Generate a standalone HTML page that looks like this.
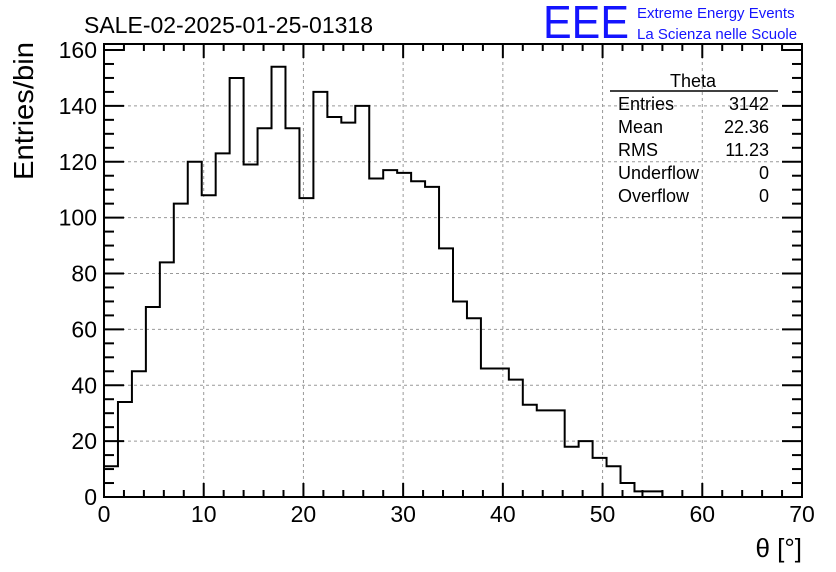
<!DOCTYPE html>
<html><head><meta charset="utf-8"><style>
body{margin:0;background:#fff;}
svg{display:block;font-family:"Liberation Sans",sans-serif;}
</style></head><body>
<svg id="c" width="836" height="572">
<text x="84" y="33" font-size="23">SALE-02-2025-01-25-01318</text>
<text x="543" y="38" font-size="46" fill="#1414ff" textLength="86" lengthAdjust="spacingAndGlyphs">EEE</text>
<text x="637" y="18" font-size="15" fill="#1414ff">Extreme Energy Events</text>
<text x="637" y="39" font-size="15" fill="#1414ff">La Scienza nelle Scuole</text>
<text x="33" y="42" font-size="28" transform="rotate(-90 33 42)" text-anchor="end" textLength="138" lengthAdjust="spacingAndGlyphs">Entries/bin</text>
<text x="802" y="557" font-size="26" text-anchor="end">θ [°]</text>
<g id="grid"></g><g id="ticks"></g>
<path id="hist" fill="none" stroke="#000" stroke-width="2"/>
<rect x="104" y="44" width="698" height="453" fill="none" stroke="#000" stroke-width="2"/>
<g font-size="18">
<text x="693" y="87" text-anchor="middle">Theta</text>
<line x1="610" y1="91" x2="778" y2="91" stroke="#000" stroke-width="1.5"/>
<text x="618" y="110">Entries</text><text x="769" y="110" text-anchor="end">3142</text>
<text x="618" y="133">Mean</text><text x="769" y="133" text-anchor="end">22.36</text>
<text x="618" y="156">RMS</text><text x="769" y="156" text-anchor="end">11.23</text>
<text x="618" y="179">Underflow</text><text x="769" y="179" text-anchor="end">0</text>
<text x="618" y="202">Overflow</text><text x="769" y="202" text-anchor="end">0</text>
</g>
</svg>
<script>
const binCounts=[11,34,45,68,84,105,120,108,123,150,119,132,154,132,107,145,136,134,140,114,117,116,113,111,89,70,64,46,46,42,33,31,31,18,20,14,11,5,2,2,0,0,0,0,0,0,0,0,0,0];
const binWidth=1.4;
const xTicks=[0,10,20,30,40,50,60,70];
const yTicks=[0,20,40,60,80,100,120,140,160];
const X=v=>104+v*(698/70), Y=v=>497-v*(447/160);
const NS="http://www.w3.org/2000/svg", svg=document.getElementById('c');
const grid=document.getElementById('grid'), tk=document.getElementById('ticks');
function mk(p,tag,a){const e=document.createElementNS(NS,tag);for(const k in a)e.setAttribute(k,a[k]);p.appendChild(e);return e;}
xTicks.forEach(t=>{
 if(t>0&&t<70){const g=mk(grid,'line',{x1:X(t),x2:X(t),y1:44,y2:497,stroke:'#999','stroke-dasharray':'3,3'});
 
 }
 const l=mk(svg,'text',{x:X(t),y:522,'font-size':23,'text-anchor':'middle'});l.textContent=t;
 
 
});
for(let v=0;v<=70;v+=2){const L=v%10===0?14:7;
 mk(tk,'line',{x1:X(v),x2:X(v),y1:497,y2:497-L,stroke:'#000','stroke-width':2});
 mk(tk,'line',{x1:X(v),x2:X(v),y1:44,y2:44+L,stroke:'#000','stroke-width':2});}
yTicks.forEach(t=>{
 if(t>0&&t<160){const g=mk(grid,'line',{x1:104,x2:802,y1:Y(t),y2:Y(t),stroke:'#999','stroke-dasharray':'3,3'});
 
 }
 const l=mk(svg,'text',{x:97,y:Y(t)+8,'font-size':23,'text-anchor':'end'});l.textContent=t;
 
 
});
for(let v=0;v<=160;v+=5){const L=v%20===0?20:10;
 mk(tk,'line',{x1:104,x2:104+L,y1:Y(v),y2:Y(v),stroke:'#000','stroke-width':2});
 mk(tk,'line',{x1:802,x2:802-L,y1:Y(v),y2:Y(v),stroke:'#000','stroke-width':2});}
let d='M'+X(0)+','+Y(0);
binCounts.forEach((c,i)=>{d+=' L'+X(i*binWidth)+','+Y(c)+' L'+X((i+1)*binWidth)+','+Y(c);});
d+=' L'+X(binCounts.length*binWidth)+','+Y(0);
document.getElementById('hist').setAttribute('d',d);
</script>
</body></html>
